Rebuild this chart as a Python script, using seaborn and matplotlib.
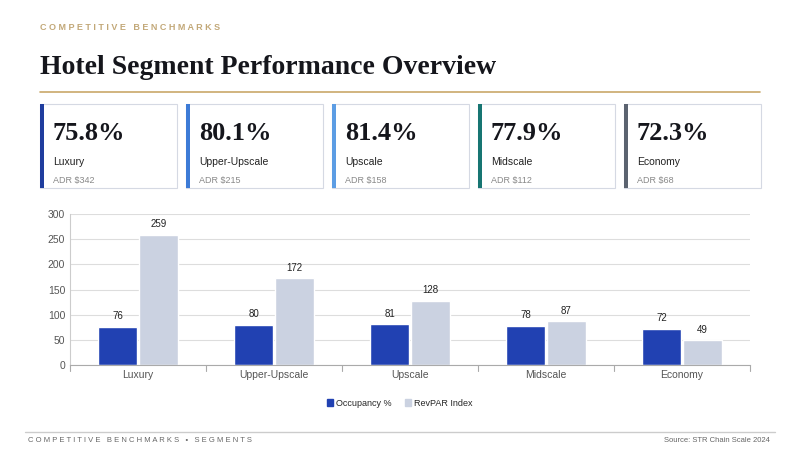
import matplotlib
matplotlib.use('Agg')
import matplotlib.pyplot as plt
import matplotlib.patches as mpatches
import pandas as pd
import seaborn as sns

segments = ['Luxury', 'Upper-Upscale', 'Upscale', 'Midscale', 'Economy']
occupancy = [76, 80, 81, 78, 72]
revpar = [259, 172, 128, 87, 49]
card_values = ['75.8%', '80.1%', '81.4%', '77.9%', '72.3%']
card_adr = ['ADR $342', 'ADR $215', 'ADR $158', 'ADR $112', 'ADR $68']
accents = ['#1f3d9e', '#3d7bd6', '#5c9de4', '#177572', '#5b6370']

sns.set_style('white')
plt.rcParams['font.family'] = ['Liberation Sans', 'DejaVu Sans']

W, H = 800, 450
fig = plt.figure(figsize=(8, 4.5), dpi=100)
fig.patch.set_facecolor('white')

def fx(x): return x / W
def fy(y): return 1 - y / H

fig.text(fx(40), fy(27), 'C O M P E T I T I V E   B E N C H M A R K S', fontsize=6.5,
         color='#c2a878', va='center', fontweight='bold')
fig.text(fx(40), fy(67), 'Hotel Segment Performance Overview', fontsize=20, fontweight='bold',
         family='Liberation Serif', color='#15161c', va='center')
fig.add_artist(plt.Line2D([fx(40), fx(760)], [fy(92), fy(92)], color='#c9a86a', lw=1.2))

card_x = [40, 186, 332, 478, 624]
card_w = 137
for i in range(5):
    x0 = card_x[i]
    fig.add_artist(mpatches.Rectangle((fx(x0), fy(188)), fx(card_w), (188 - 104) / H,
                                      facecolor='white', edgecolor='#d5d9e3', lw=0.8))
    fig.add_artist(mpatches.Rectangle((fx(x0), fy(188)), fx(4), (188 - 104) / H,
                                      facecolor=accents[i], edgecolor='none'))
    fig.text(fx(x0 + 13), fy(133), card_values[i], fontsize=19, fontweight='bold',
             family='Liberation Serif', color='#15161c', va='center')
    fig.text(fx(x0 + 13), fy(162), segments[i], fontsize=7.5, color='#222', va='center')
    fig.text(fx(x0 + 13), fy(180), card_adr[i], fontsize=6.5, color='#888', va='center')

ax = fig.add_axes([fx(70), fy(365), fx(680), (365 - 214) / H])
df = pd.DataFrame({'Segment': segments * 2,
                   'Value': occupancy + revpar,
                   'Metric': ['Occupancy %'] * 5 + ['RevPAR Index'] * 5})
sns.barplot(data=df, x='Segment', y='Value', hue='Metric', ax=ax, saturation=1,
            palette=['#2141b2', '#cbd2e1'], width=0.6, gap=0.05, legend=False)
for c in ax.containers:
    ax.bar_label(c, fontsize=7, padding=4, color='#222')
ax.set_ylim(0, 300)
ax.set_yticks(range(0, 301, 50))
ax.grid(axis='y', color='#dddddd', lw=0.8)
ax.set_axisbelow(True)
for s in ['top', 'right']:
    ax.spines[s].set_visible(False)
ax.spines['left'].set_color('#cccccc')
ax.spines['bottom'].set_color('#aaaaaa')
ax.set_xlabel('')
ax.set_ylabel('')
ax.tick_params(labelsize=7.5, colors='#555555', length=0)
for i in range(6):
    ax.axvline(i - 0.5, ymin=-0.04, ymax=0, color='#aaaaaa', lw=0.8, clip_on=False)

handles = [mpatches.Patch(color='#2141b2', label='Occupancy %'),
           mpatches.Patch(color='#cbd2e1', label='RevPAR Index')]
fig.legend(handles=handles, loc='center', bbox_to_anchor=(fx(400), fy(403)), ncol=2,
           frameon=False, fontsize=6.5, handlelength=0.6, handleheight=0.9, columnspacing=1.5,
           handletextpad=0.4)

fig.add_artist(plt.Line2D([fx(25), fx(775)], [fy(432), fy(432)], color='#cccccc', lw=1))
fig.text(fx(28), fy(441), 'C O M P E T I T I V E   B E N C H M A R K S   •   S E G M E N T S',
         fontsize=5.5, color='#666', va='center')
fig.text(fx(770), fy(441), 'Source: STR Chain Scale 2024', fontsize=5.5, color='#666',
         va='center', ha='right')

fig.savefig('out.png', dpi=100, facecolor='white')
